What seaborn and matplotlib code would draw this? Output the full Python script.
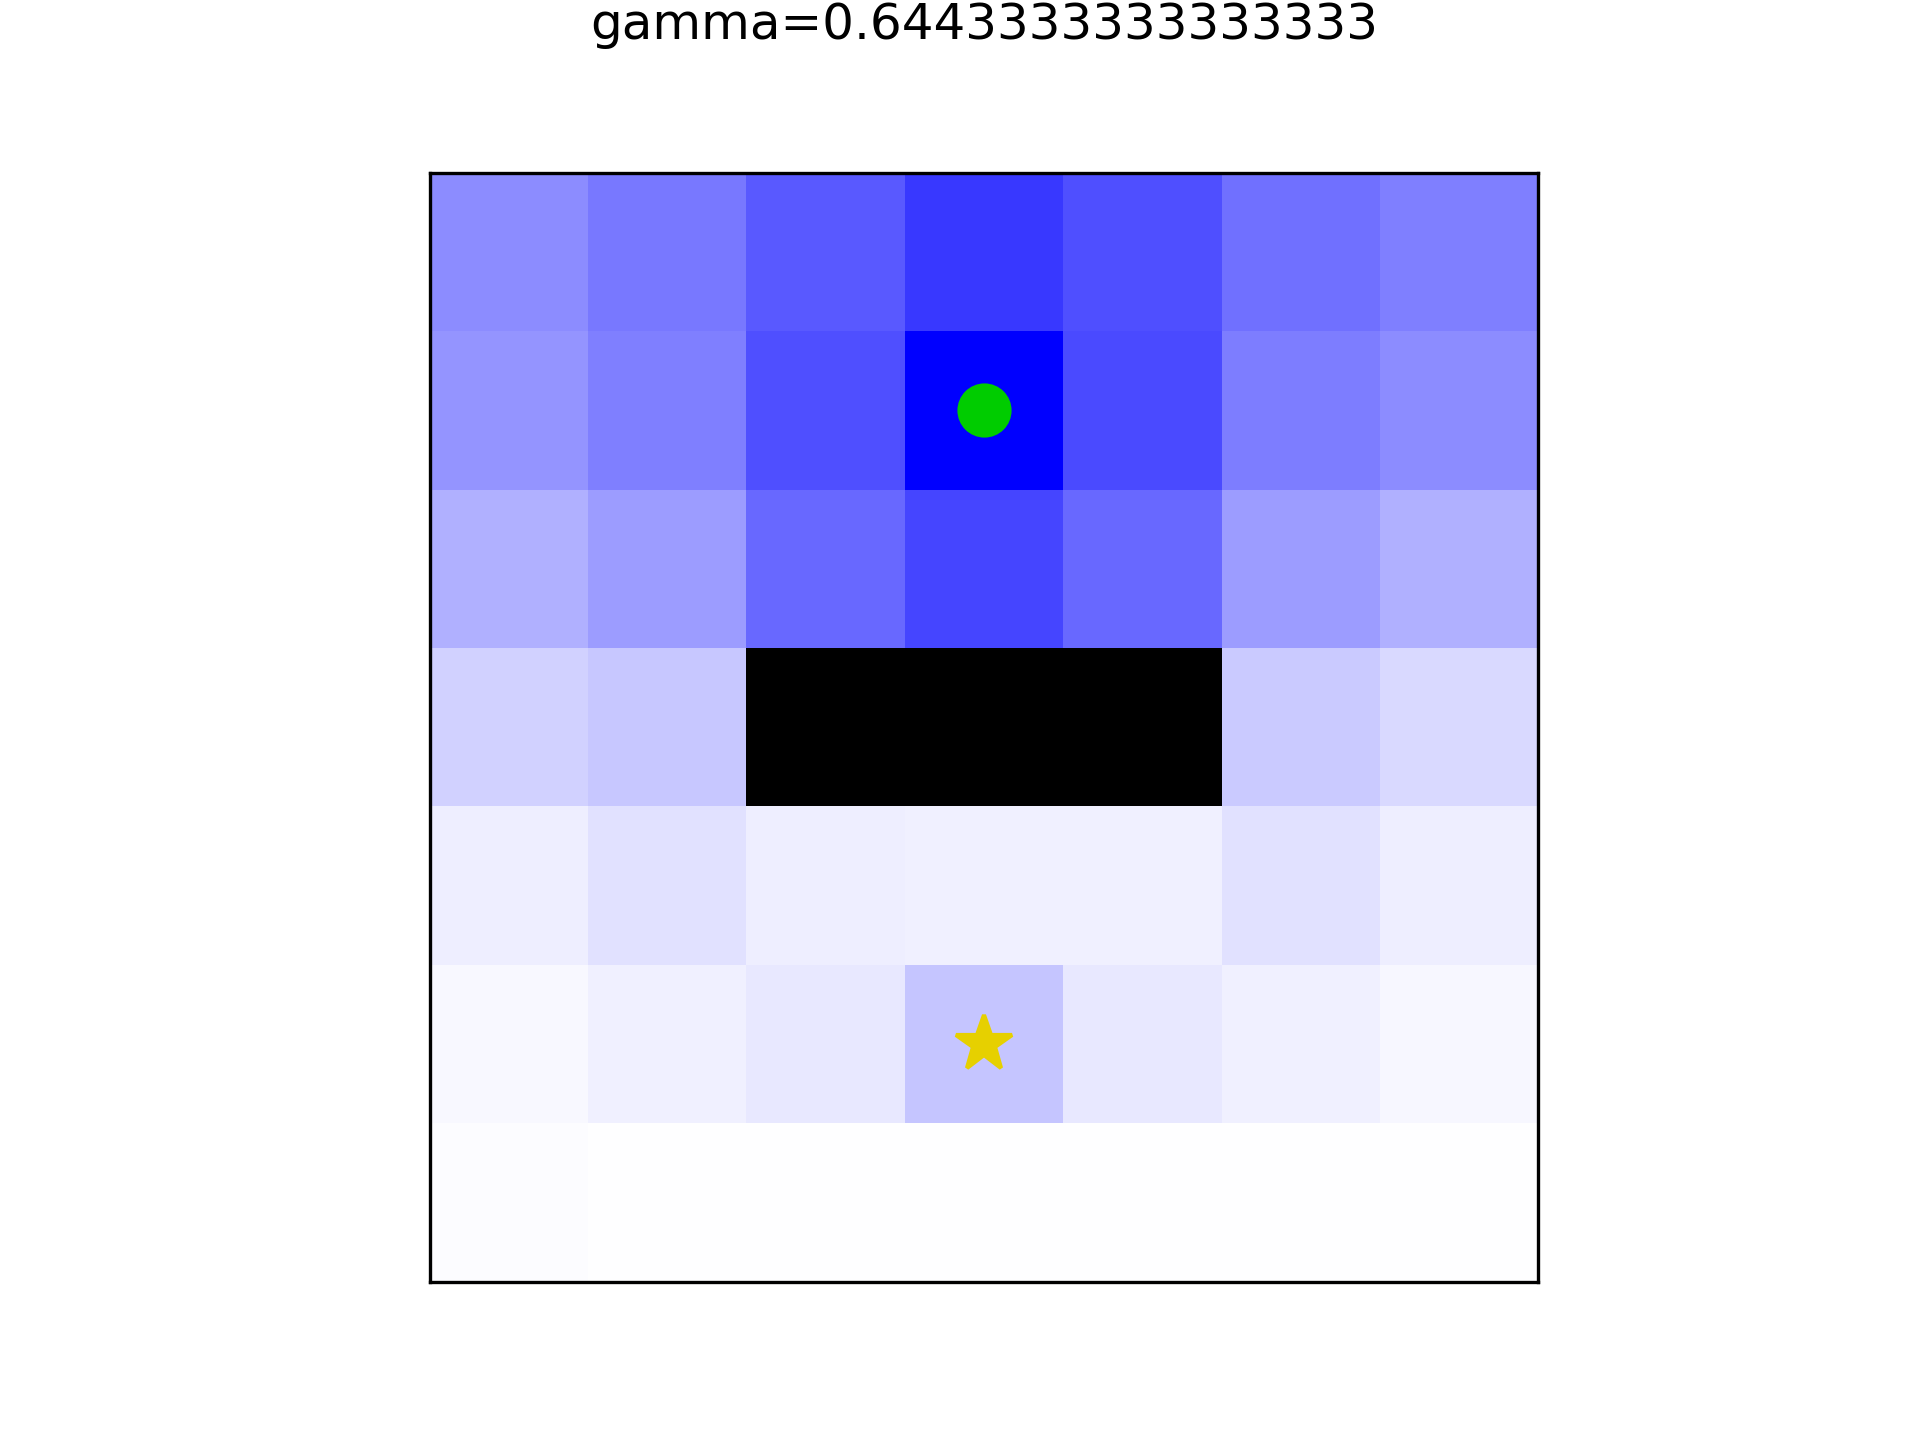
import numpy as np
import matplotlib
matplotlib.use("Agg")
import matplotlib.pyplot as plt
import seaborn as sns
from matplotlib.colors import LinearSegmentedColormap

# value grid (0 = white, 1 = full blue); NaN marks walls
row0 = [0.45, 0.53, 0.65, 0.78, 0.69, 0.56, 0.50]
row1 = [0.42, 0.50, 0.69, 1.00, 0.71, 0.51, 0.45]
row2 = [0.31, 0.39, 0.59, 0.73, 0.59, 0.39, 0.31]
row3 = [0.18, 0.22, np.nan, np.nan, np.nan, 0.21, 0.15]
row4 = [0.07, 0.12, 0.07, 0.06, 0.06, 0.12, 0.07]
row5 = [0.03, 0.06, 0.09, 0.23, 0.09, 0.06, 0.035]
row6 = [0.012, 0.005, 0.005, 0.005, 0.005, 0.005, 0.005]
values = np.array([row0, row1, row2, row3, row4, row5, row6])

start = (3, 1)   # green circle (col, row)
goal = (3, 5)    # yellow star
gamma = 0.6443333333333333

cmap = LinearSegmentedColormap.from_list("wb", ["#ffffff", "#0000ff"])

fig, ax = plt.subplots(figsize=(6.4, 4.8), dpi=300)
ax.set_facecolor("black")
sns.heatmap(values, ax=ax, cmap=cmap, vmin=0, vmax=1, cbar=False,
            square=True, xticklabels=False, yticklabels=False)
for s in ax.spines.values():
    s.set_visible(True)
    s.set_linewidth(0.8)
    s.set_color("black")
ax.plot(start[0] + 0.5, start[1] + 0.5, "o", color="#00cc00", markersize=12)
ax.plot(goal[0] + 0.5, goal[1] + 0.5, "*", color="#e6d000", markersize=14)
ax.set_title(f"gamma={gamma}", pad=32)
fig.savefig("out.png")
